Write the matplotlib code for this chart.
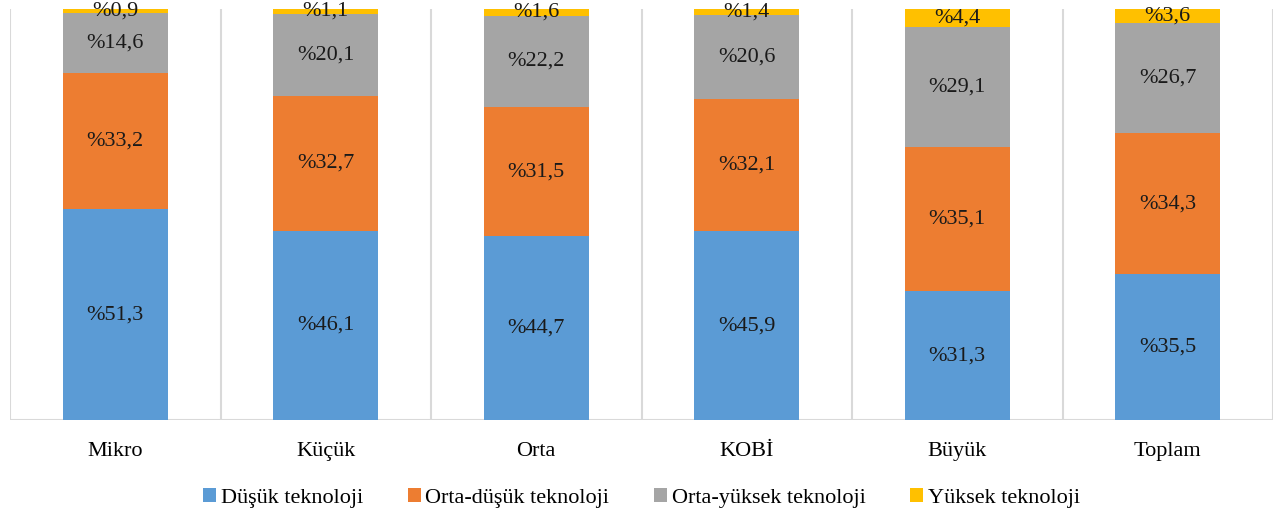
import matplotlib
matplotlib.use('Agg')
import matplotlib.pyplot as plt
import numpy as np

categories = ['Mikro', 'Küçük', 'Orta', 'KOBİ', 'Büyük', 'Toplam']
series_names = ['Düşük teknoloji', 'Orta-düşük teknoloji', 'Orta-yüksek teknoloji', 'Yüksek teknoloji']
dusuk = [51.3, 46.1, 44.7, 45.9, 31.3, 35.5]
orta_dusuk = [33.2, 32.7, 31.5, 32.1, 35.1, 34.3]
orta_yuksek = [14.6, 20.1, 22.2, 20.6, 29.1, 26.7]
yuksek = [0.9, 1.1, 1.6, 1.4, 4.4, 3.6]
colors = ['#5B9BD5', '#ED7D31', '#A5A5A5', '#FFC000']

plt.rcParams['font.family'] = ['Liberation Serif', 'DejaVu Serif']

fig = plt.figure(figsize=(12.83, 5.18), dpi=100)
ax = fig.add_axes([10 / 1283, 1 - 420 / 518, 1263 / 1283, 411 / 518])

x = np.arange(len(categories))
bottom = np.zeros(len(categories))
for name, vals, c in zip(series_names, [dusuk, orta_dusuk, orta_yuksek, yuksek], colors):
    vals = np.array(vals)
    ax.bar(x, vals, 0.5, bottom=bottom, color=c, label=name, zorder=2)
    for xi, b, v in zip(x, bottom, vals):
        label = ('%' + f'{v:.1f}').replace('.', ',')
        ax.text(xi, b + v / 2, label, ha='center', va='center', fontsize=16, color='#1a1a1a', zorder=3)
    bottom += vals

ax.set_xlim(-0.5, len(categories) - 0.5)
ax.set_ylim(0, 100)
for b in np.arange(-0.5, len(categories), 1.0):
    ax.axvline(b, color='#D9D9D9', lw=1.5, zorder=1)
ax.axhline(0, color='#D9D9D9', lw=1.5, zorder=1)

ax.set_xticks(x)
ax.set_xticklabels(categories, fontsize=16)
ax.tick_params(axis='x', length=0, pad=16)
ax.set_yticks([])
for s in ax.spines.values():
    s.set_visible(False)

fig.legend(loc='center', bbox_to_anchor=(0.5, 1 - 498 / 518), ncol=4, frameon=False,
           fontsize=16, handlelength=0.6, handleheight=0.6, handletextpad=0.2, columnspacing=2.0)

fig.savefig('out.png', dpi=100)
